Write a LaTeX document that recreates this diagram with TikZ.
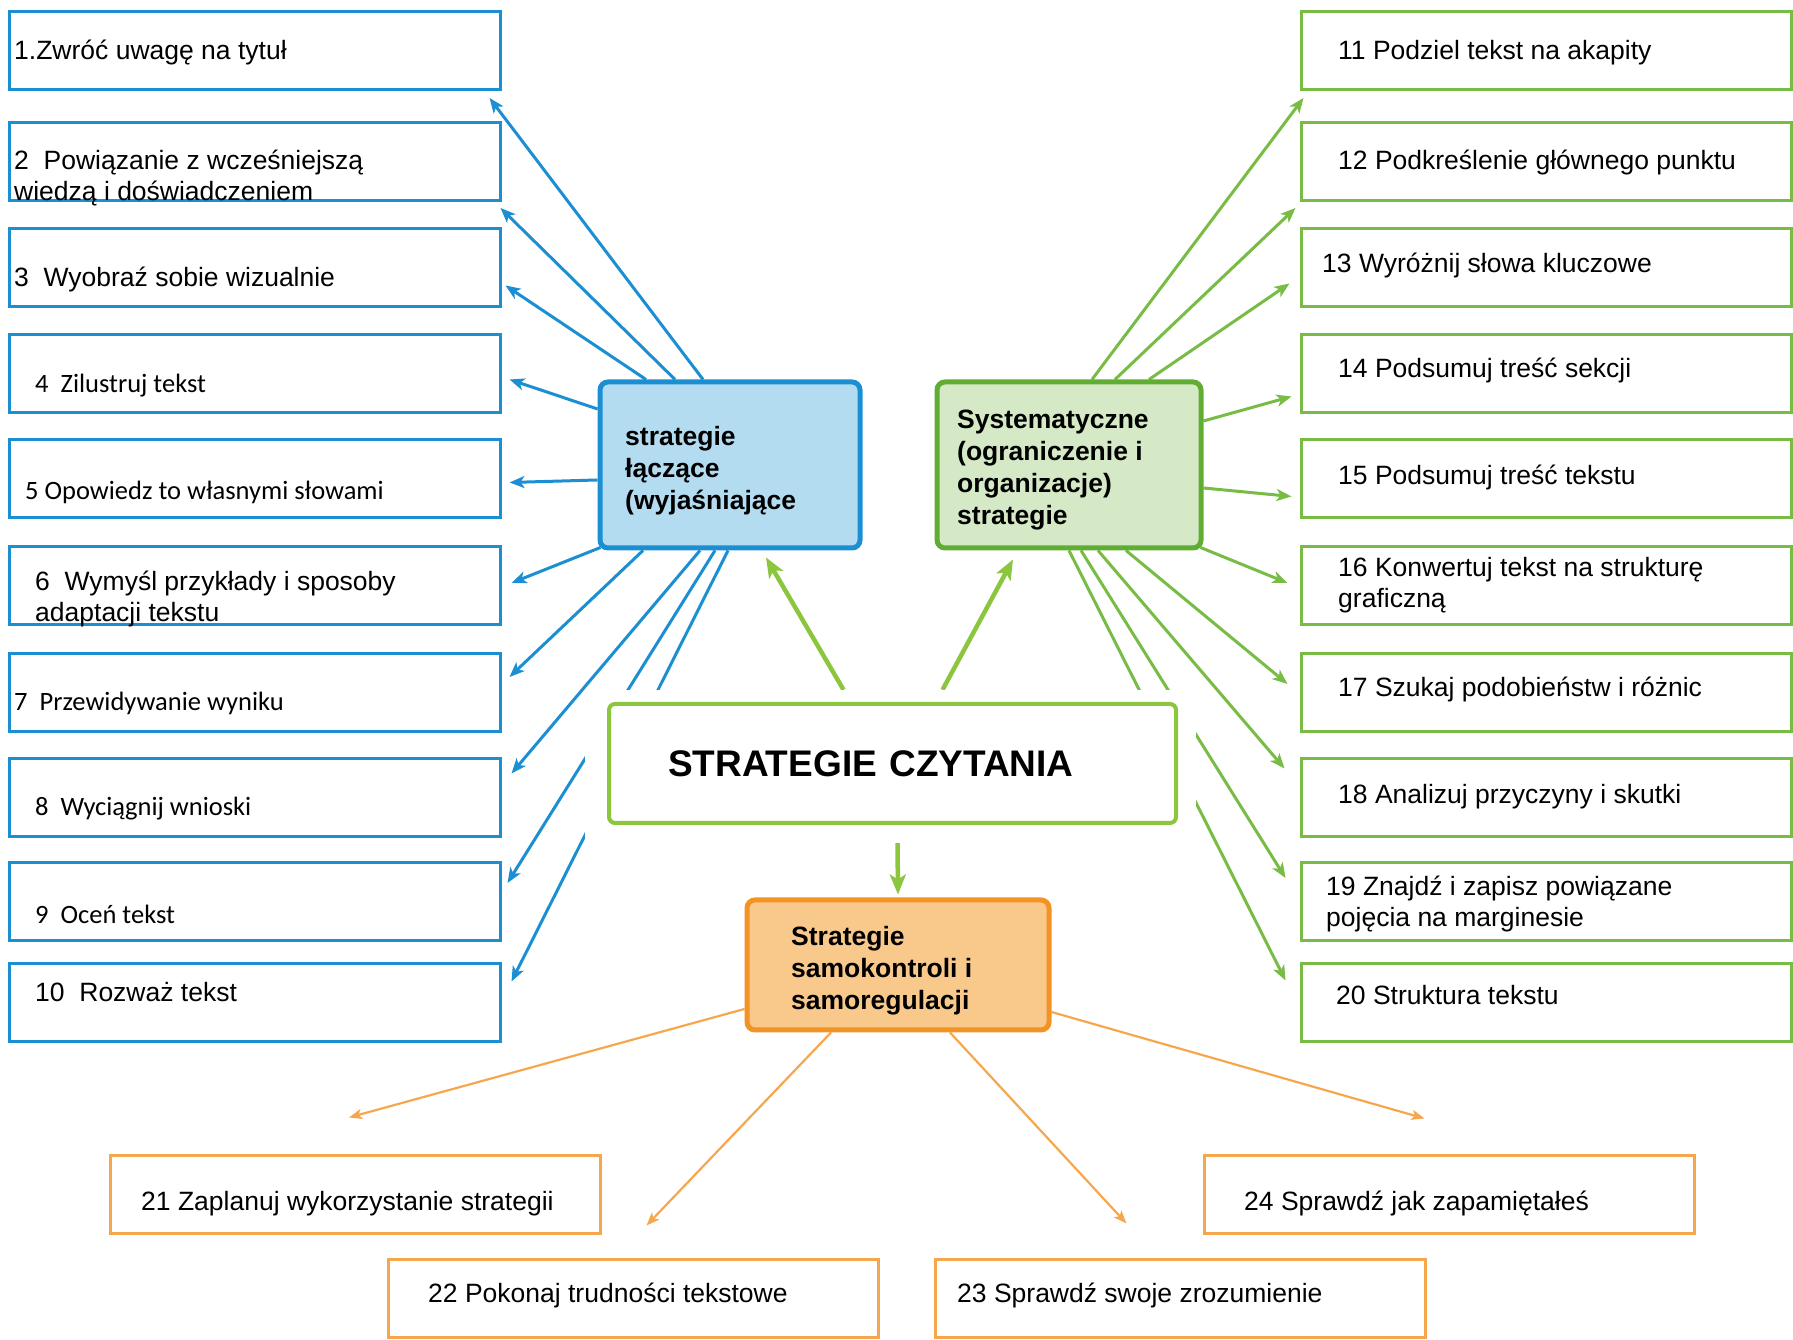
\documentclass[tikz,border=0pt]{standalone}
\usepackage{fontspec}
\setmainfont{Liberation Sans}
\newfontfamily\calfont{Carlito}
\usetikzlibrary{arrows.meta,backgrounds}

\definecolor{lblue}{HTML}{1B8FD2}
\definecolor{lbluefill}{HTML}{B3DCF1}
\definecolor{lgreen}{HTML}{78BC45}
\definecolor{mgreen}{HTML}{5FAD33}
\definecolor{mgreenfill}{HTML}{D5E9C6}
\definecolor{cgreen}{HTML}{8CC63F}
\definecolor{morange}{HTML}{F29324}
\definecolor{morangefill}{HTML}{F8C98A}
\definecolor{lorange}{HTML}{F6A74E}

\begin{document}
\begin{tikzpicture}[x=1pt,y=1pt,
  txt/.style={anchor=west, inner sep=0pt, align=left, font=\fontsize{26.5}{31}\selectfont},
  caltxt/.style={txt, font=\calfont\fontsize{26.5}{31}\selectfont},
  midtxt/.style={txt, font=\bfseries\fontsize{26.5}{32}\selectfont},
  lbox/.style={draw=lblue, line width=3pt, fill=white, minimum width=491pt, minimum height=78pt, inner sep=0pt},
  rbox/.style={lbox, draw=lgreen, minimum width=490pt},
  obox/.style={lbox, draw=lorange, minimum width=490pt},
  midbox/.style={line width=5pt, rounded corners=8pt, inner sep=0pt},
  barrow/.style={draw=lblue, line width=3pt, -{Stealth[length=15pt,width=12pt,inset=4pt]}},
  garrow/.style={draw=lgreen, line width=3pt, -{Stealth[length=15pt,width=12pt,inset=4pt]}},
  carrow/.style={draw=cgreen, line width=4.5pt, -{Stealth[length=20pt,width=16pt,inset=5pt]}},
  oarrow/.style={draw=lorange, line width=2.2pt, -{Stealth[length=13pt,width=10pt,inset=3pt]}}]

\useasboundingbox (0,0) rectangle (1793,1340);

% left column
\node[lbox] (b1) at (254.5,1289.5) {};
\node[lbox] (b2) at (254.5,1178.5) {};
\node[lbox] (b3) at (254.5,1072.5) {};
\node[lbox] (b4) at (254.5,966.5) {};
\node[lbox] (b5) at (254.5,861.5) {};
\node[lbox] (b6) at (254.5,754) {};
\node[lbox] (b7) at (254.5,647) {};
\node[lbox] (b8) at (254.5,542.5) {};
\node[lbox] (b9) at (254.5,438) {};
\node[lbox] (b10) at (254.5,337.5) {};

\node[txt] (t1) at (14,1287) {1.Zwróć uwagę na tytuł};
\node[txt] (t2) at (14,1161.5) {2~ Powiązanie z wcześniejszą\\wiedzą i doświadczeniem};
\node[txt] (t3) at (14,1060) {3~ Wyobraź sobie wizualnie};
\node[caltxt] (t4) at (35,954) {4~ Zilustruj tekst};
\node[caltxt] (t5) at (25,848) {5 Opowiedz to własnymi słowami};
\node[txt] (t6) at (35,740.5) {6~ Wymyśl przykłady i sposoby\\adaptacji tekstu};
\node[caltxt] (t7) at (14,637) {7~ Przewidywanie wyniku};
\node[caltxt] (t8) at (35,531) {8~ Wyciągnij wnioski};
\node[caltxt] (t9) at (35,426) {9~ Oceń tekst};
\node[txt] (t10) at (35,348) {10~ Rozważ tekst};

% right column
\node[rbox] (b11) at (1546,1289.5) {};
\node[rbox] (b12) at (1546,1178.5) {};
\node[rbox] (b13) at (1546,1072.5) {};
\node[rbox] (b14) at (1546,966.5) {};
\node[rbox] (b15) at (1546,861.5) {};
\node[rbox] (b16) at (1546,754) {};
\node[rbox] (b17) at (1546,647) {};
\node[rbox] (b18) at (1546,542.5) {};
\node[rbox] (b19) at (1546,438) {};
\node[rbox] (b20) at (1546,337.5) {};

\node[txt] (t11) at (1338,1287) {11 Podziel tekst na akapity};
\node[txt] (t12) at (1338,1177) {12 Podkreślenie głównego punktu};
\node[txt] (t13) at (1322,1074) {13 Wyróżnij słowa kluczowe};
\node[txt] (t14) at (1338,969) {14 Podsumuj treść sekcji};
\node[txt] (t15) at (1338,862) {15 Podsumuj treść tekstu};
\node[txt] (t16) at (1338,755) {16 Konwertuj tekst na strukturę\\graficzną};
\node[txt] (t17) at (1338,650) {17 Szukaj podobieństw i różnic};
\node[txt] (t18) at (1338,543) {18 Analizuj przyczyny i skutki};
\node[txt] (t19) at (1326,436) {19 Znajdź i zapisz powiązane\\pojęcia na marginesie};
\node[txt] (t20) at (1336,345) {20 Struktura tekstu};

% bottom row
\node[obox] (b21) at (355,145) {};
\node[obox] (b22) at (633.5,41) {};
\node[obox] (b23) at (1180.5,41) {};
\node[obox] (b24) at (1449.5,145) {};

\node[txt] (t21) at (141,136) {21 Zaplanuj wykorzystanie strategii};
\node[txt] (t22) at (428,45) {22 Pokonaj trudności tekstowe};
\node[txt] (t23) at (957,45) {23 Sprawdź swoje zrozumienie};
\node[txt] (t24) at (1244,136) {24 Sprawdź jak zapamiętałeś};

% middle
\node[midbox, draw=lblue, fill=lbluefill, minimum width=260pt, minimum height=166pt] (lc) at (730,875) {};
\node[midtxt] (lct) at (625,869.5) {strategie\\łączące\\(wyjaśniające};
\node[midbox, draw=mgreen, fill=mgreenfill, minimum width=264pt, minimum height=166pt] (sy) at (1069,875) {};
\node[midtxt] (syt) at (957,869.5) {Systematyczne\\(ograniczenie i\\organizacje)\\strategie};
\node[midbox, draw=morange, fill=morangefill, minimum width=302pt, minimum height=130pt] (sk) at (898,375) {};
\node[midtxt] (skt) at (791,369.5) {Strategie\\samokontroli i\\samoregulacji};

\node[fill=white, minimum width=611pt, minimum height=153pt, inner sep=0pt] (czytbg) at (890.5,573.5) {};
\node[draw=cgreen, line width=4pt, rounded corners=6pt, fill=white, inner xsep=59pt, text width=449pt, minimum height=119pt, align=left, font=\bfseries\fontsize{37}{40}\selectfont] (czyt) at (892.5,576.5) {STRATEGIE CZYTANIA};

\begin{scope}[on background layer]
% blue
\draw[barrow] ([xshift=-27pt]lc.north) -- ([xshift=-12pt,yshift=-7pt]b1.south east);
\draw[barrow] ([xshift=-55pt]lc.north) -- ([xshift=-1pt,yshift=-6pt]b2.south east);
\draw[barrow] ([xshift=-84pt]lc.north) -- ([xshift=4pt,yshift=-18pt]b3.east);
\draw[barrow] ([yshift=56pt]lc.west) -- ([xshift=8pt,yshift=-6pt]b4.east);
\draw[barrow] ([yshift=-15pt]lc.west) -- ([xshift=8pt,yshift=-4pt]b5.east);
\draw[barrow] ([xshift=3pt,yshift=3pt]lc.south west) -- ([xshift=10pt,yshift=3pt]b6.east);
\draw[barrow] ([xshift=-87pt]lc.south) -- ([xshift=8pt,yshift=16pt]b7.east);
\draw[barrow] ([xshift=-30pt]lc.south) -- ([xshift=10pt,yshift=24pt]b8.east);
\draw[barrow] ([xshift=-15pt]lc.south) -- ([xshift=6pt,yshift=19pt]b9.east);
\draw[barrow] ([xshift=-2pt]lc.south) -- ([xshift=10pt,yshift=21pt]b10.east);
% green
\draw[garrow] ([xshift=23pt]sy.north) -- ([xshift=4pt,yshift=-7pt]b11.south west);
\draw[garrow] ([xshift=46pt]sy.north) -- ([xshift=-4pt,yshift=-6pt]b12.south west);
\draw[garrow] ([xshift=80pt]sy.north) -- ([xshift=-10pt,yshift=-16pt]b13.west);
\draw[garrow] ([yshift=44pt]sy.east) -- ([xshift=-8pt,yshift=-23pt]b14.west);
\draw[garrow] ([yshift=-23pt]sy.east) -- ([xshift=-8pt,yshift=-18pt]b15.west);
\draw[garrow] ([xshift=-3pt,yshift=3pt]sy.south east) -- ([xshift=-12pt,yshift=3pt]b16.west);
\draw[garrow] ([xshift=57pt]sy.south) -- ([xshift=-12pt,yshift=9pt]b17.west);
\draw[garrow] ([xshift=29pt]sy.south) -- ([xshift=-15pt,yshift=29pt]b18.west);
\draw[garrow] ([xshift=12pt]sy.south) -- ([xshift=-14pt,yshift=24pt]b19.west);
\draw[garrow] (sy.south) -- ([xshift=-14pt,yshift=22pt]b20.west);
% centre
\draw[carrow] ([xshift=-47pt]czytbg.north) -- ([xshift=36pt,yshift=-7pt]lc.south);
\draw[carrow] ([xshift=52pt]czytbg.north) -- ([xshift=-56pt,yshift=-9pt]sy.south);
\draw[carrow] ([xshift=7pt]czytbg.south) -- ([yshift=3pt]sk.north);
% orange
\draw[oarrow] ([yshift=-44pt]sk.west) -- ([xshift=-6pt,yshift=37pt]b21.north);
\draw[oarrow] ([xshift=-67pt]sk.south) -- ([xshift=13pt,yshift=33pt]b22.north);
\draw[oarrow] ([xshift=52pt]sk.south) -- ([xshift=-54pt,yshift=35pt]b23.north);
\draw[oarrow] ([yshift=-47pt]sk.east) -- ([xshift=-25pt,yshift=36pt]b24.north);
\end{scope}

\end{tikzpicture}
\end{document}
